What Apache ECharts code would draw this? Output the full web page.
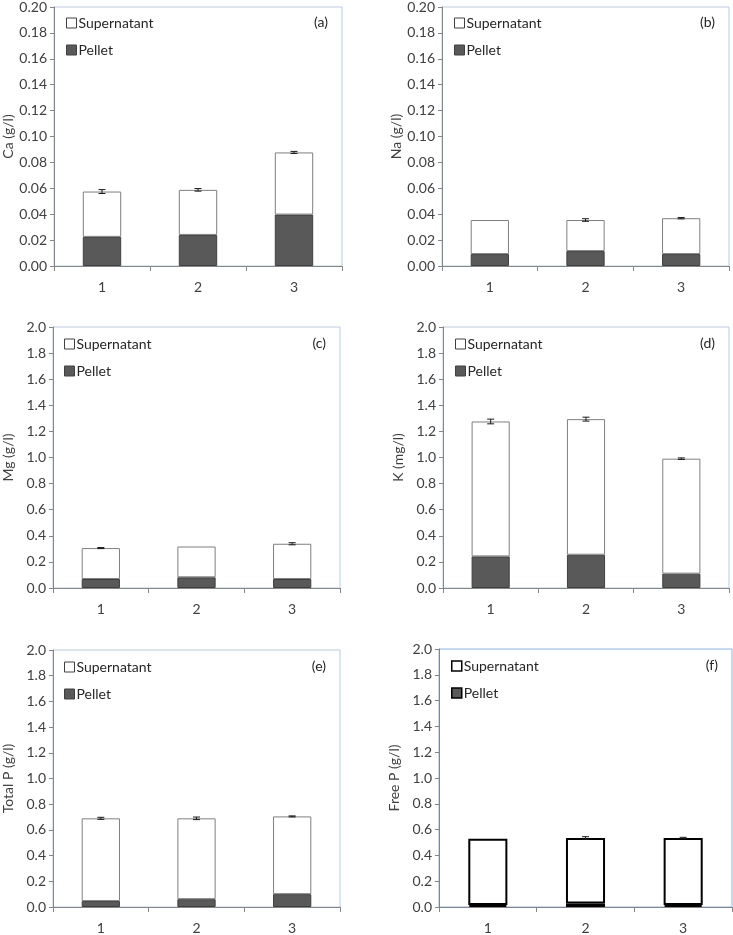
<!DOCTYPE html>
<html><head><meta charset="utf-8">
<script src="https://cdn.jsdelivr.net/npm/echarts@6/dist/echarts.min.js"></script>
<style>html,body{margin:0;padding:0;background:#fff}#c{width:733px;height:935px}</style>
</head><body><div id="c"></div>
<script>
const categories = ['1', '2', '3'];

const caPellet = [0.0225, 0.0240, 0.0397];
const caSuper  = [0.0350, 0.0348, 0.0480];
const caErr    = [0.0015, 0.0010, 0.0008];

const naPellet = [0.0092, 0.0115, 0.0092];
const naSuper  = [0.0263, 0.0240, 0.0277];
const naErr    = [0.0000, 0.0010, 0.0005];

const mgPellet = [0.069, 0.082, 0.069];
const mgSuper  = [0.237, 0.236, 0.270];
const mgErr    = [0.004, 0.000, 0.008];

const kPellet  = [0.242, 0.255, 0.110];
const kSuper   = [1.034, 1.039, 0.881];
const kErr     = [0.018, 0.015, 0.006];

const tpPellet = [0.046, 0.061, 0.100];
const tpSuper  = [0.644, 0.629, 0.605];
const tpErr    = [0.008, 0.010, 0.004];

const fpPellet = [0.015, 0.028, 0.015];
const fpSuper  = [0.515, 0.507, 0.520];
const fpErr    = [0.000, 0.010, 0.005];

const panels = [
  {tag:'(a)', name:'Ca (g/l)', pellet:caPellet, sup:caSuper, err:caErr, max:0.2, step:0.02, dec:2,
   grid:{left:54, top:6, width:288, height:260}, border:'#b9cde5', bw:1, edge:'#7f7f7f'},
  {tag:'(b)', name:'Na (g/l)', pellet:naPellet, sup:naSuper, err:naErr, max:0.2, step:0.02, dec:2,
   grid:{left:442, top:6, width:287, height:260}, border:'#b9cde5', bw:1, edge:'#7f7f7f'},
  {tag:'(c)', name:'Mg (g/l)', pellet:mgPellet, sup:mgSuper, err:mgErr, max:2, step:0.2, dec:1,
   grid:{left:52, top:327, width:288, height:261}, border:'#b9cde5', bw:1, edge:'#7f7f7f'},
  {tag:'(d)', name:'K (mg/l)', pellet:kPellet, sup:kSuper, err:kErr, max:2, step:0.2, dec:1,
   grid:{left:443, top:327, width:286, height:261}, border:'#b9cde5', bw:1, edge:'#7f7f7f'},
  {tag:'(e)', name:'Total P (g/l)', pellet:tpPellet, sup:tpSuper, err:tpErr, max:2, step:0.2, dec:1,
   grid:{left:52, top:650, width:288, height:261}, border:'#b9cde5', bw:1, edge:'#7f7f7f'},
  {tag:'(f)', name:'Free P (g/l)', pellet:fpPellet, sup:fpSuper, err:fpErr, max:2, step:0.2, dec:1,
   grid:{left:439, top:649, width:293, height:262}, border:'#8eb4e3', bw:1, edge:'#000000', thick:true}
];

const FONT = 'Lato, "Open Sans", sans-serif';
const TXT = '#404040';

const option = {animation:false, backgroundColor:'#fff', grid:[], xAxis:[], yAxis:[], series:[], legend:[], graphic:[]};

panels.forEach((p, i) => {
  const g = p.grid;
  option.grid.push({left:g.left, top:g.top, width:g.width, height:g.height, show:true,
    borderColor:p.border, borderWidth:p.bw, backgroundColor:'transparent', containLabel:false});
  option.xAxis.push({type:'category', gridIndex:i, data:categories, boundaryGap:true,
    axisLine:{lineStyle:{color:'#868686', width:1}},
    axisTick:{show:true, alignWithLabel:false, length:5, lineStyle:{color:'#868686'}},
    axisLabel:{color:TXT, fontSize:14, fontFamily:FONT, margin:14}, splitLine:{show:false}});
  option.yAxis.push({type:'value', gridIndex:i, min:0, max:p.max, interval:p.step,
    name:p.name, nameLocation:'middle', nameGap:38,
    nameTextStyle:{color:TXT, fontSize:14, fontFamily:FONT},
    axisLine:{show:true, lineStyle:{color:'#868686', width:1}},
    axisTick:{show:true, length:4, lineStyle:{color:'#868686'}},
    axisLabel:{color:TXT, fontSize:14, fontFamily:FONT, margin:7, formatter:v=>v.toFixed(p.dec)},
    splitLine:{show:false}});
  const lw = p.thick ? 2 : 1;
  option.series.push({type:'bar', name:'Pellet', xAxisIndex:i, yAxisIndex:i, stack:'s'+i,
    data:p.pellet, barWidth:'40%', itemStyle:{color:'#595959', borderColor:p.thick?'#000':'#3f3f3f', borderWidth:lw}});
  option.series.push({type:'bar', name:'Supernatant', xAxisIndex:i, yAxisIndex:i, stack:'s'+i,
    data:p.sup, barWidth:'40%', itemStyle:{color:'#ffffff', borderColor:p.edge, borderWidth:lw}});
  const errData = categories.map((c, k) => [k, p.pellet[k] + p.sup[k], p.err[k]]);
  option.series.push({type:'custom', name:'err'+i, xAxisIndex:i, yAxisIndex:i, z:5,
    encode:{x:0, y:1}, data:errData,
    renderItem:(params, api) => {
      const x = api.value(0), y = api.value(1), e = api.value(2);
      if (!e) return {type:'group', children:[]};
      const t = api.coord([x, y + e]);
      const b = api.coord([x, y - e]);
      const cap = 3.5;
      const st = {stroke:'#1a1a1a', lineWidth:1};
      return {type:'group', children:[
        {type:'line', shape:{x1:t[0], y1:t[1], x2:b[0], y2:b[1]}, style:st},
        {type:'line', shape:{x1:t[0]-cap, y1:t[1], x2:t[0]+cap, y2:t[1]}, style:st},
        {type:'line', shape:{x1:b[0]-cap, y1:b[1], x2:b[0]+cap, y2:b[1]}, style:st}
      ]};
    }});
  option.legend.push({orient:'vertical', left:g.left + 7, top:g.top + 5, itemGap:13,
    itemWidth:10, itemHeight:10, selectedMode:false, icon:'rect',
    textStyle:{color:'#262626', fontSize:14, fontFamily:FONT, padding:[0,0,0,-3]},
    data:[
      {name:'Supernatant', itemStyle:{color:'#fff', borderColor:p.thick?'#000':'#404040', borderWidth:p.thick?1.5:1}},
      {name:'Pellet', itemStyle:{color:'#595959', borderColor:p.thick?'#000':'#404040', borderWidth:p.thick?1.5:1}}
    ]});
  option.graphic.push({type:'text', right: 733 - (g.left + g.width) + 14, top: g.top + 9,
    style:{text:p.tag, fill:'#262626', fontSize:14, fontFamily:FONT}});
});

const chart = echarts.init(document.getElementById('c'), null, {renderer:'canvas'});
chart.setOption(option);
</script></body></html>
